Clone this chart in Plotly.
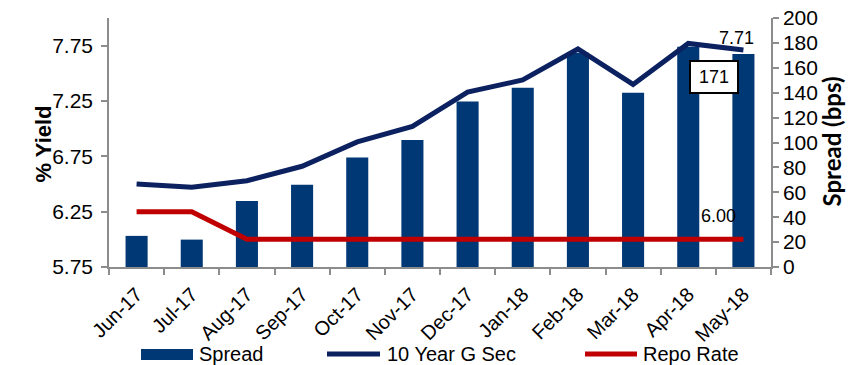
import plotly.graph_objects as go

months = ["Jun-17", "Jul-17", "Aug-17", "Sep-17", "Oct-17", "Nov-17",
          "Dec-17", "Jan-18", "Feb-18", "Mar-18", "Apr-18", "May-18"]
spread = [25, 22, 53, 66, 88, 102, 133, 144, 172, 140, 177, 171]
gsec = [6.50, 6.47, 6.53, 6.66, 6.88, 7.02, 7.33, 7.44, 7.72, 7.40, 7.77, 7.71]
repo = [6.25, 6.25, 6.00, 6.00, 6.00, 6.00, 6.00, 6.00, 6.00, 6.00, 6.00, 6.00]
yield_ticks = [5.75, 6.25, 6.75, 7.25, 7.75]
spread_ticks = list(range(0, 201, 20))

BAR = "#003876"
NAVY = "#0c2160"
RED = "#c00000"
AX = "#8c8c8c"
FONT = "Liberation Sans, Arial, sans-serif"

L, R, T, B = 109, 93, 18, 98
W, H = 864, 365
PW, PH = W - L - R, H - T - B


def px(x):
    return (x - L) / PW


def py(y):
    return (T + PH - y) / PH


fig = go.Figure()
fig.add_trace(go.Bar(x=months, y=spread, name="Spread", marker_color=BAR,
                     marker_line_width=0, yaxis="y", showlegend=False))
fig.add_trace(go.Scatter(x=months, y=gsec, name="10 Year G Sec", mode="lines",
                         line=dict(color=NAVY, width=5), yaxis="y2", showlegend=False))
fig.add_trace(go.Scatter(x=months, y=repo, name="Repo Rate", mode="lines",
                         line=dict(color=RED, width=5), yaxis="y2", showlegend=False))

axis_common = dict(showline=True, linecolor=AX, linewidth=1.5, ticks="outside",
                   tickcolor=AX, ticklen=6, tickwidth=1.5, showgrid=False, zeroline=False,
                   tickfont=dict(family=FONT, size=21, color="#000"))

fig.update_layout(
    width=W, height=H,
    margin=dict(l=L, r=R, t=T, b=B, autoexpand=False),
    plot_bgcolor="white", paper_bgcolor="white",
    bargap=0.6,
    xaxis=dict(**{**axis_common, "tickfont": dict(family=FONT, size=20, color="#000")},
               type="category", tickson="boundaries", tickangle=-45,
               automargin=False, ticklabelstandoff=6),
    yaxis=dict(**axis_common, side="right", range=[0, 200], tickvals=spread_ticks,
               automargin=False),
    yaxis2=dict(**axis_common, side="left", overlaying="y", range=[5.75, 8.0],
                tickvals=yield_ticks, ticktext=[f"{v:.2f}" for v in yield_ticks],
                automargin=False, ticklabelstandoff=4),
    font=dict(family=FONT, color="#000"),
)

annotations = [
    dict(x=months[-1], y=gsec[-1], xref="x", yref="y2", text=f"{gsec[-1]:.2f}",
         showarrow=False, xshift=-7, yshift=12, font=dict(size=18, family=FONT)),
    dict(x=months[-1], y=spread[-1], xref="x", yref="y", text=f"{spread[-1]}",
         showarrow=False, xshift=-29, yshift=-23, font=dict(size=18, family=FONT),
         bgcolor="white", bordercolor="#000", borderwidth=2, borderpad=2, width=42, height=26),
    dict(x=months[-1], y=repo[-1], xref="x", yref="y2", text=f"{repo[-1]:.2f}",
         showarrow=False, xshift=-25, yshift=23, font=dict(size=18, family=FONT)),
    dict(x=px(28), y=py(144), xref="paper", yref="paper", text="<b>% Yield</b>",
         textangle=-90, showarrow=False, font=dict(size=22, family=FONT)),
    dict(x=px(847), y=py(142), xref="paper", yref="paper", text="<b>Spread (bps)</b>",
         textangle=-90, showarrow=False, font=dict(size=24, family="Lato, sans-serif")),
    dict(x=px(197), y=py(354), xref="paper", yref="paper", text="Spread", xanchor="left",
         yanchor="middle", showarrow=False, font=dict(size=20, family=FONT)),
    dict(x=px(385), y=py(354), xref="paper", yref="paper", text="10 Year G Sec", xanchor="left",
         yanchor="middle", showarrow=False, font=dict(size=20, family=FONT)),
    dict(x=px(641), y=py(354), xref="paper", yref="paper", text="Repo Rate", xanchor="left",
         yanchor="middle", showarrow=False, font=dict(size=20, family=FONT)),
]
fig.update_layout(annotations=annotations)

shapes = [
    dict(type="rect", xref="paper", yref="paper", x0=px(141), x1=px(193),
         y0=py(360), y1=py(349), fillcolor=BAR, line_width=0),
    dict(type="line", xref="paper", yref="paper", x0=px(327), x1=px(380),
         y0=py(354), y1=py(354), line=dict(color=NAVY, width=5)),
    dict(type="line", xref="paper", yref="paper", x0=px(585), x1=px(637),
         y0=py(354), y1=py(354), line=dict(color=RED, width=5)),
]
fig.update_layout(shapes=shapes)

fig.write_html("out.html")
